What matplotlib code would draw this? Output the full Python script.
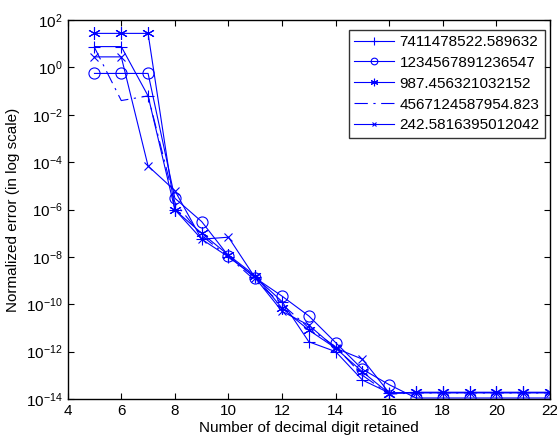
import numpy as np
import matplotlib.pyplot as plt

plt.rcParams['font.family'] = ['Liberation Sans', 'DejaVu Sans']
plt.rcParams['mathtext.fontset'] = 'custom'
plt.rcParams['mathtext.rm'] = 'Liberation Sans'
plt.rcParams['mathtext.it'] = 'Liberation Sans'

# digits retained
digits = list(range(5, 23))

# normalized error for each test number
err_7411 = [7.6, 7.6, 6.3e-2, 1.0e-6, 5.6e-8, 1.0e-8, 1.4e-9, 1.3e-10, 2.6e-12, 1.0e-12,
            6.3e-14, 1.8e-14, 1.9e-14, 1.9e-14, 1.9e-14, 1.9e-14, 1.9e-14, 1.9e-14]
err_1234 = [0.56, 0.56, 0.56, 3.0e-6, 3.1e-7, 1.1e-8, 1.3e-9, 2.2e-10, 3.2e-11, 2.4e-12,
            1.8e-13, 4.0e-14, 1.1e-14, 1.1e-14, 1.1e-14, 1.1e-14, 1.1e-14, 1.1e-14]
err_987 = [27.5, 27.5, 27.5, 9.5e-7, 1.0e-7, 1.2e-8, 1.6e-9, 6.8e-11, 8.1e-12, 1.4e-12,
           1.4e-13, 1.7e-14, 1.9e-14, 1.9e-14, 1.9e-14, 1.9e-14, 1.9e-14, 1.9e-14]
err_4567 = [7.0, 4.0e-2, 6.3e-2, 2.0e-6, 8.0e-8, 1.0e-8, 1.0e-9, 1.0e-10, 1.0e-11, 1.6e-12,
            1.0e-13, 1.6e-14, 1.8e-14, 1.8e-14, 1.8e-14, 1.8e-14, 1.8e-14, 1.8e-14]
err_242 = [2.8, 2.8, 6.9e-5, 6.3e-6, 5.6e-8, 6.8e-8, 1.3e-9, 5.0e-11, 1.3e-11, 1.4e-12,
           4.8e-13, 1.8e-14, 1.8e-14, 1.8e-14, 1.8e-14, 1.8e-14, 1.8e-14, 1.8e-14]

labels = ['7411478522.589632', '1234567891236547', '987.456321032152',
          '4567124587954.823', '242.5816395012042']

fig = plt.figure(figsize=(5.57, 4.37), dpi=100)
ax = fig.add_axes([0.1215, 0.087, 0.866, 0.867])

blue = (0, 0, 1)
lw = 0.8
ax.semilogy(digits, err_7411, color=blue, lw=lw, marker='+', ms=9, mew=0.8, label=labels[0])
ax.semilogy(digits, err_1234, color=blue, lw=lw, marker='o', ms=8, mfc='none', mew=0.8, label=labels[1])
ax.semilogy(digits, err_987, color=blue, lw=lw, marker=(6, 2, 0), ms=9, mew=0.8, label=labels[2])
ax.semilogy(digits, err_4567, color=blue, lw=lw, dashes=(12, 5, 2, 5), label=labels[3])
ax.semilogy(digits, err_242, color=blue, lw=lw, marker='x', ms=6, mew=0.8, label=labels[4])

ax.set_xlim(4, 22)
ax.set_ylim(1e-14, 1e2)
ax.set_xticks(range(4, 23, 2))
ax.set_yticks([10.0 ** k for k in range(-14, 3, 2)])
ax.minorticks_off()
ax.tick_params(direction='in', top=True, right=True, labelsize=11, length=4, width=0.8)
for s in ax.spines.values():
    s.set_linewidth(1.0)

ax.set_xlabel('Number of decimal digit retained', fontsize=11, labelpad=2)
ax.set_ylabel('Normalized error (in log scale)', fontsize=11)

leg = ax.legend(loc='upper right', fontsize=11, fancybox=False, edgecolor='black',
                handlelength=2.6, borderpad=0.35, labelspacing=0.45, handletextpad=0.4,
                borderaxespad=0, bbox_to_anchor=(0.99, 0.975), markerscale=0.6)
leg.get_frame().set_linewidth(1.0)

fig.savefig('out.png', dpi=100)
